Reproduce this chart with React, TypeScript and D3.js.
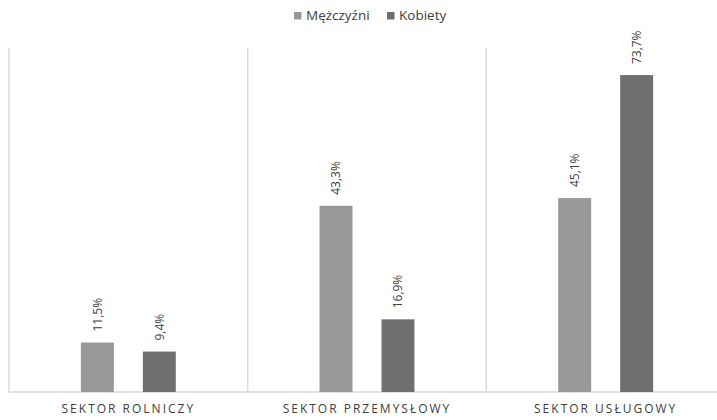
import React from "react";
import * as d3 from "d3";

const categories = ["SEKTOR ROLNICZY", "SEKTOR PRZEMYSŁOWY", "SEKTOR USŁUGOWY"];
const seriesNames = ["Mężczyźni", "Kobiety"];
const men = [11.5, 43.3, 45.1];
const women = [9.4, 16.9, 73.7];
const seriesColors = ["#98989a", "#6f6f72"];

const W = 717;
const H = 420;
const FONT = "'Open Sans', sans-serif";

export default function App() {
  const values = [men, women];
  const x0 = d3.scaleBand<string>().domain(categories).range([9, 725]).padding(0);
  const x1 = d3
    .scaleBand<string>()
    .domain(seriesNames)
    .range([0, x0.bandwidth()])
    .paddingInner(0.468)
    .paddingOuter(1.16);
  const y = d3.scaleLinear().domain([0, 80]).range([392, 48]);

  const fmt = (v: number) => v.toFixed(1).replace(".", ",") + "%";
  const bounds = [...categories.map((c) => x0(c) as number), 725];

  const legendItems = [
    { name: seriesNames[0], x: 294, color: seriesColors[0] },
    { name: seriesNames[1], x: 387, color: seriesColors[1] },
  ];

  return (
    <svg
      width={W}
      height={H}
      style={{ position: "absolute", left: 0, top: 0, background: "#fff" }}
      fontFamily={FONT}
    >
      {bounds.map((b, i) => (
        <line key={"v" + i} x1={b} x2={b} y1={y(80)} y2={y(0)} stroke="#d9d9d9" strokeWidth={1.5} />
      ))}
      <line x1={9} x2={725} y1={y(0)} y2={y(0)} stroke="#d9d9d9" strokeWidth={1.5} />

      {categories.map((c, ci) => (
        <g key={c} transform={`translate(${x0(c)},0)`}>
          {seriesNames.map((s, si) => {
            const v = values[si][ci];
            const bx = x1(s) as number;
            const bw = x1.bandwidth();
            const cx = bx + bw / 2;
            return (
              <g key={s}>
                <rect x={bx} y={y(v)} width={bw} height={y(0) - y(v)} fill={seriesColors[si]} />
                <text
                  transform={`translate(${cx},${y(v) - 11}) rotate(-90)`}
                  dy="0.35em"
                  fontSize={12}
                  fill="#404040"
                  textAnchor="start"
                >
                  {fmt(v)}
                </text>
              </g>
            );
          })}
          <text
            x={x0.bandwidth() / 2}
            y={413}
            textAnchor="middle"
            fontSize={12}
            letterSpacing={2}
            fill="#404040"
          >
            {c}
          </text>
        </g>
      ))}

      {legendItems.map((l) => (
        <g key={l.name}>
          <rect x={l.x} y={12} width={7.5} height={7.5} fill={l.color} />
          <text x={l.x + 12} y={20} fontSize={13.5} fill="#404040">
            {l.name}
          </text>
        </g>
      ))}
    </svg>
  );
}
